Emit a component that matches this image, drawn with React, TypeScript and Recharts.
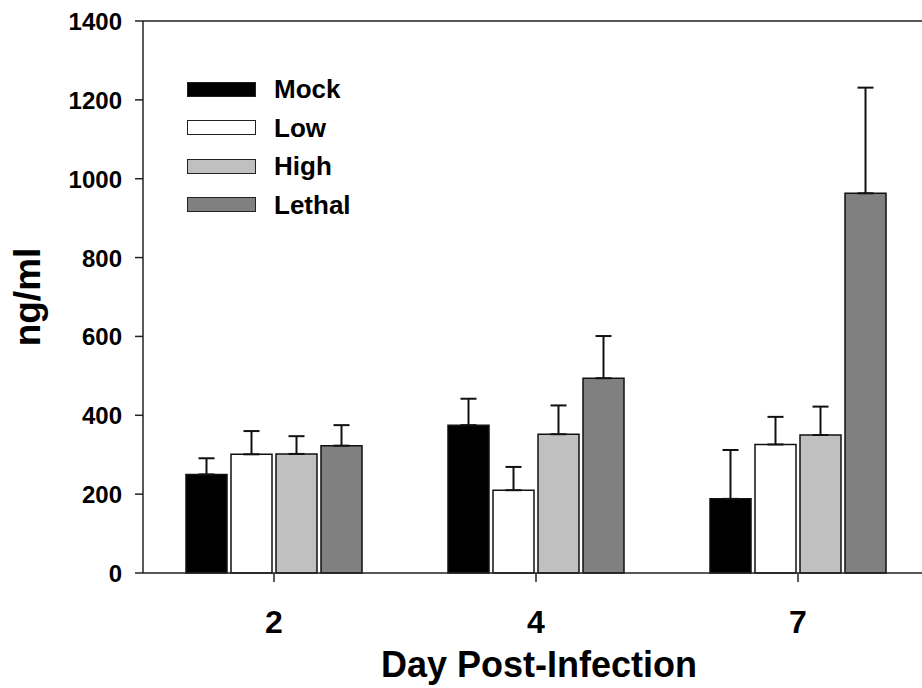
import { BarChart, Bar, XAxis, YAxis, ErrorBar, ReferenceLine } from "recharts";

const days = ["2", "4", "7"];
const groups = ["Mock", "Low", "High", "Lethal"];
const colors = ["#000000", "#ffffff", "#c0c0c0", "#808080"];

const mock = [250, 375, 188];
const low = [301, 210, 326];
const high = [302, 352, 350];
const lethal = [323, 494, 963];

const mockErr = [41, 67, 124];
const lowErr = [59, 59, 70];
const highErr = [45, 73, 72];
const lethalErr = [52, 107, 268];

const yTicks = [0, 200, 400, 600, 800, 1000, 1200, 1400];

const values = [mock, low, high, lethal];
const errors = [mockErr, lowErr, highErr, lethalErr];

const data = days.map((day, i) => {
  const row: any = { day };
  groups.forEach((g, j) => {
    row[g] = values[j][i];
    row[g + "Err"] = [0, errors[j][i]];
  });
  return row;
});

const font = "Arial, 'Liberation Sans', sans-serif";

export default function App() {
  return (
    <div
      style={{
        position: "fixed",
        left: 0,
        top: 0,
        width: 922,
        height: 688,
        overflow: "hidden",
        background: "#fff",
      }}
    >
      <BarChart
        width={940}
        height={688}
        data={data}
        margin={{ top: 21, right: 11, bottom: 0, left: 0 }}
        barSize={41}
        barGap={4}
      >
        <ReferenceLine y={1400} stroke="#222" strokeWidth={1.5} />
        <XAxis
          dataKey="day"
          height={115}
          stroke="#222"
          strokeWidth={1.5}
          tickSize={9}
          tick={({ x, payload }: any) => (
            <text
              x={x}
              y={633}
              textAnchor="middle"
              fontFamily={font}
              fontWeight="bold"
              fontSize={32}
              fill="#000"
            >
              {payload.value}
            </text>
          )}
          label={{
            content: () => (
              <text
                x={539}
                y={677}
                textAnchor="middle"
                fontFamily={font}
                fontWeight="bold"
                fontSize={36}
                fill="#000"
              >
                Day Post-Infection
              </text>
            ),
          }}
        />
        <YAxis
          width={143}
          domain={[0, 1400]}
          ticks={yTicks}
          interval={0}
          stroke="#222"
          strokeWidth={1.5}
          tickSize={8}
          tickMargin={13}
          tick={({ x, y, payload }: any) => (
            <text
              x={x}
              y={y}
              dy={9}
              textAnchor="end"
              fontFamily={font}
              fontWeight="bold"
              fontSize={24}
              fill="#000"
            >
              {payload.value}
            </text>
          )}
          label={{
            content: () => (
              <text
                x={27}
                y={297}
                transform="rotate(-90 27 297)"
                textAnchor="middle"
                dominantBaseline="central"
                fontFamily={font}
                fontWeight="bold"
                fontSize={37}
                fill="#000"
              >
                ng/ml
              </text>
            ),
          }}
        />
        {groups.map((g, j) => (
          <Bar
            key={g}
            dataKey={g}
            fill={colors[j]}
            stroke="#111"
            strokeWidth={1.5}
            isAnimationActive={false}
          >
            <ErrorBar
              dataKey={g + "Err"}
              direction="y"
              width={8}
              stroke="#111"
              strokeWidth={2}
            />
          </Bar>
        ))}
      </BarChart>
      <div style={{ position: "absolute", left: 187, top: 81 }}>
        {groups.map((g, j) => (
          <div
            key={g}
            style={{ display: "flex", alignItems: "center", height: 16, marginBottom: 22.5 }}
          >
            <div
              style={{
                width: 67,
                height: 13,
                background: colors[j],
                border: "1.5px solid #222",
              }}
            />
            <span
              style={{
                marginLeft: 18,
                fontFamily: font,
                fontWeight: "bold",
                fontSize: 26,
                lineHeight: "16px",
                color: "#000",
              }}
            >
              {g}
            </span>
          </div>
        ))}
      </div>
    </div>
  );
}
